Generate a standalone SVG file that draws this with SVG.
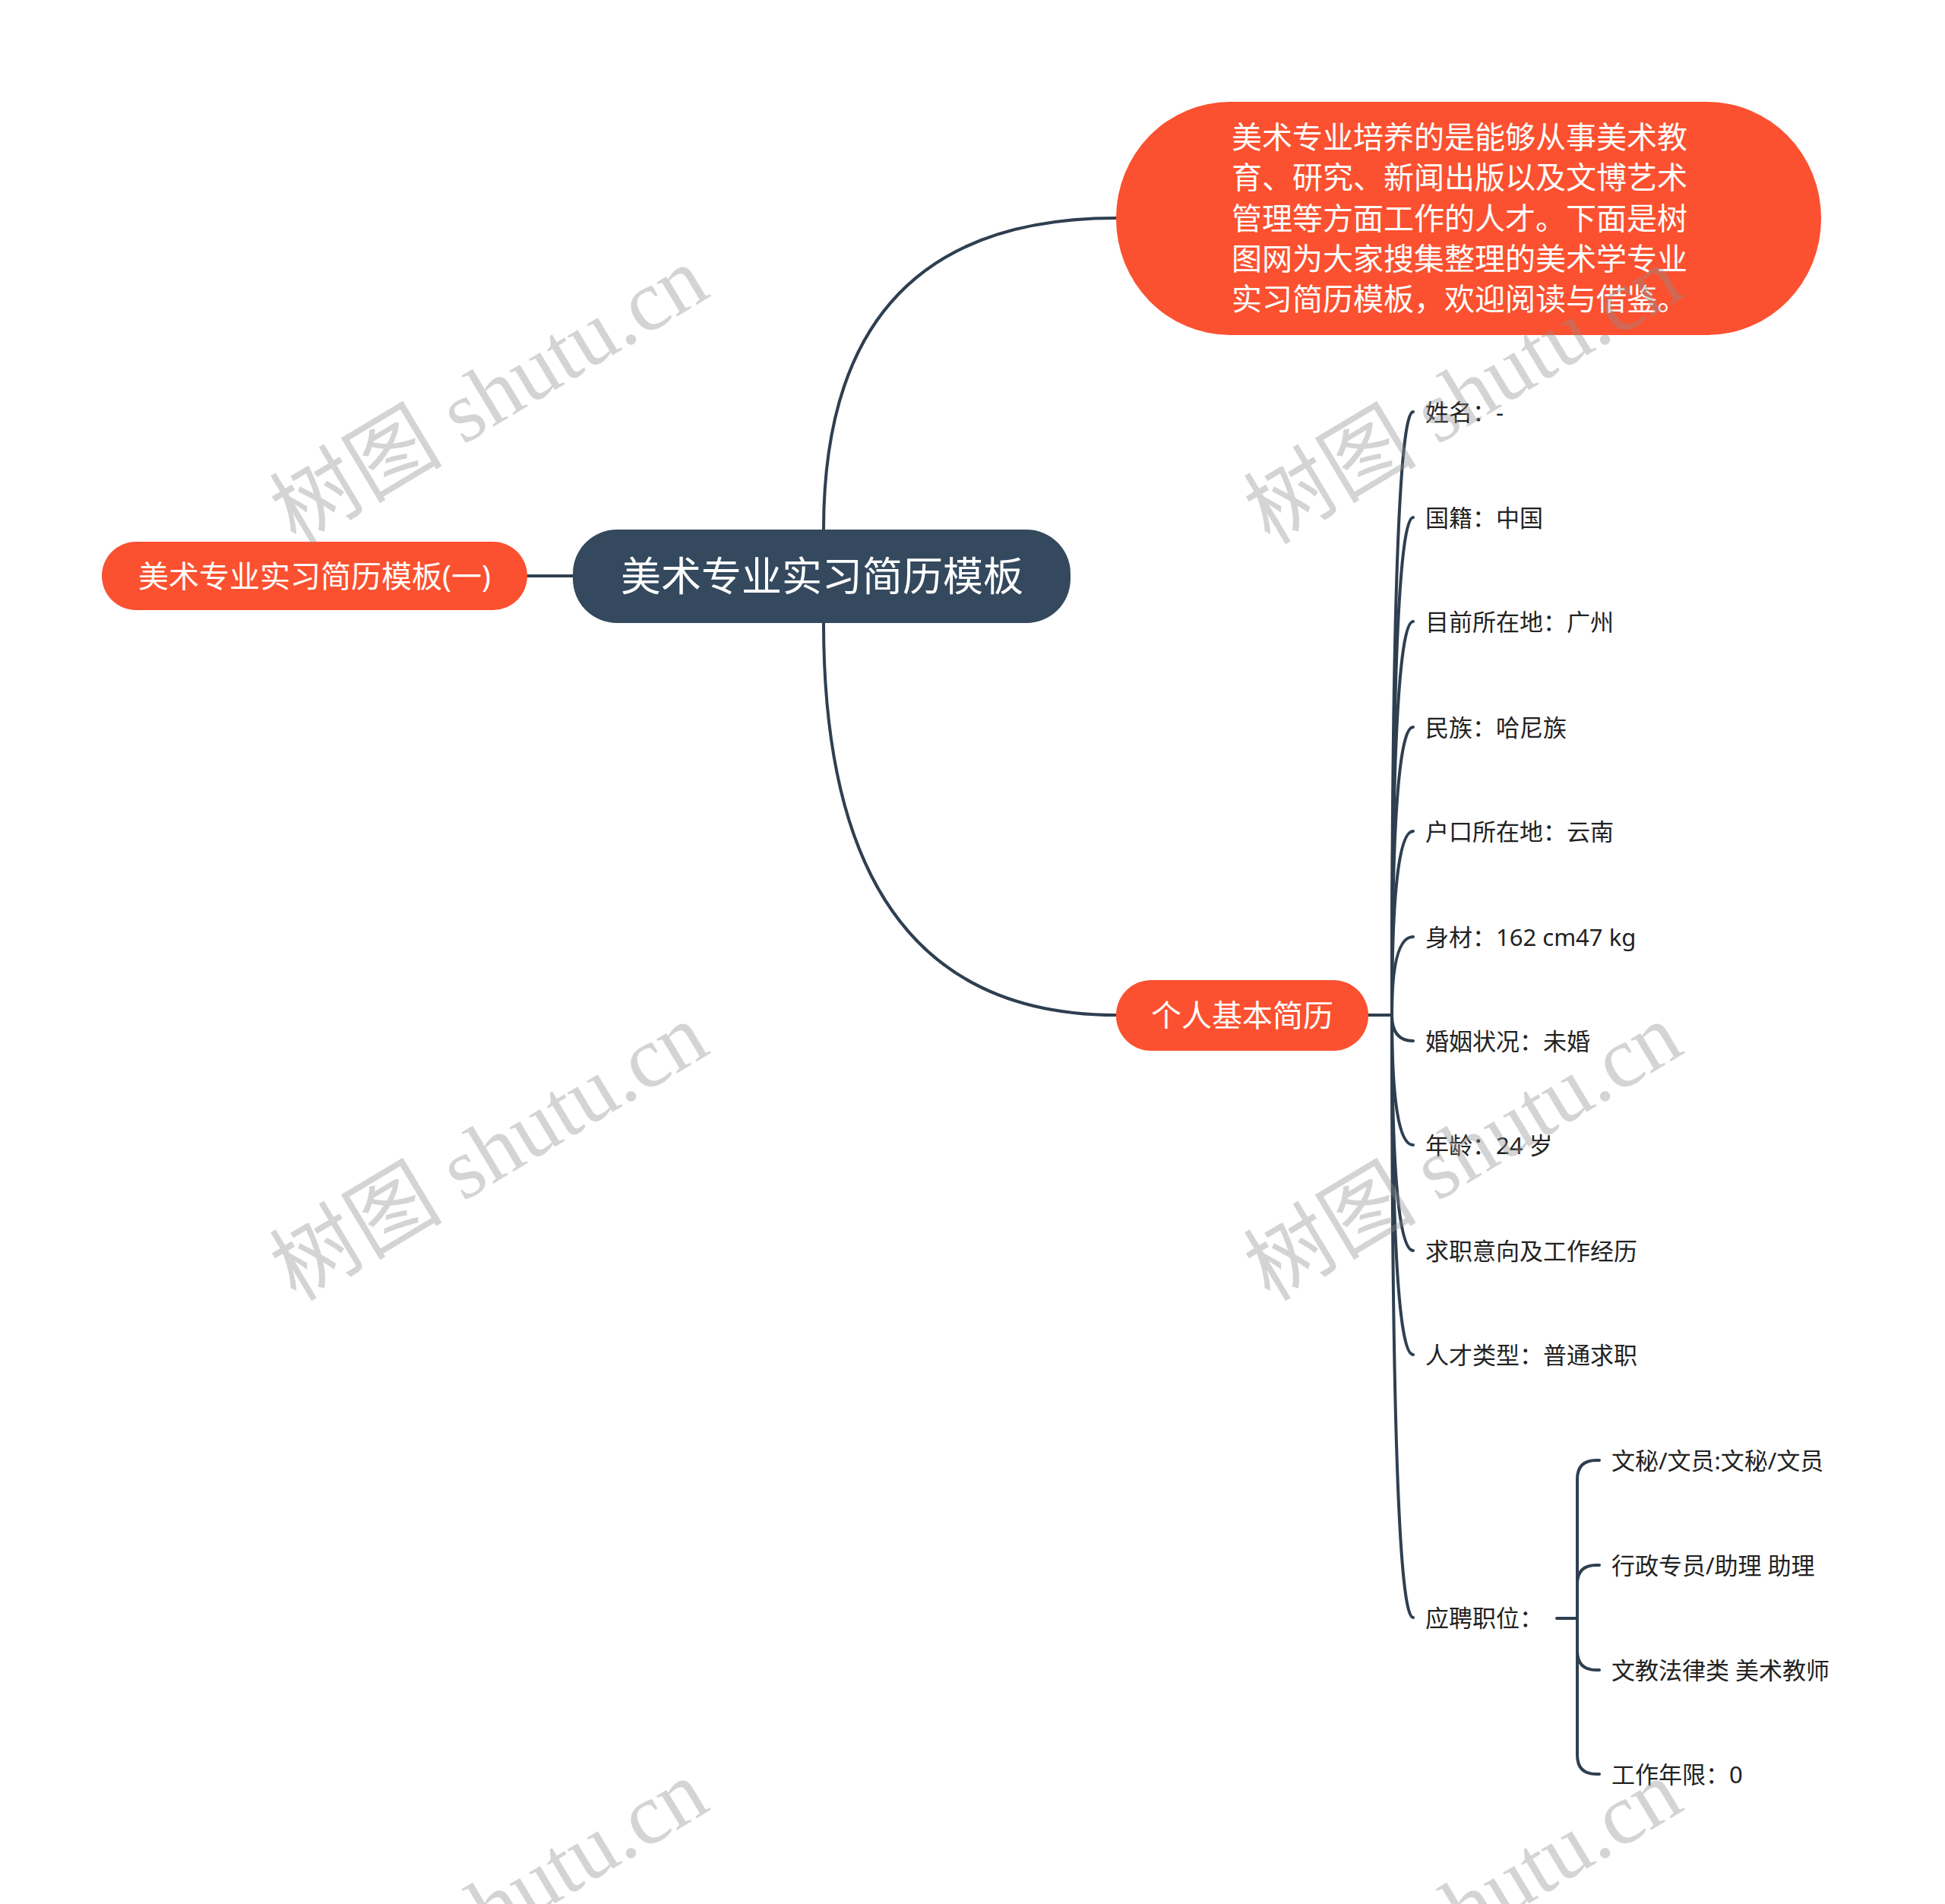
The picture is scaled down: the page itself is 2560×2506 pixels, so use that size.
<svg xmlns="http://www.w3.org/2000/svg" width="2560" height="2506" viewBox="0 0 2560 2506">
<style>
.orange{fill:#FB5130}
.dark{fill:#34495E}
.wt{fill:#FFFFFF;font-family:"Noto Sans","Noto Sans CJK SC",sans-serif}
.lt{fill:#222222;font-family:"Noto Sans","Noto Sans CJK SC",sans-serif;font-size:31px}
.conn path,.conn line{fill:none;stroke:#2E3F50;stroke-width:4;stroke-linecap:round}
.wm{fill:#8f8f8f;fill-opacity:0.38;font-family:"Liberation Serif","Noto Sans CJK SC",serif;font-size:114px}
</style>
<rect x="0" y="0" width="2560" height="2506" fill="#FFFFFF"/>
<g class="conn" id="connectors">
<line x1="694" y1="758" x2="754" y2="758"/>
<path d="M1084 697 Q1084 287 1469 287"/>
<path d="M1084 820 Q1084 1336 1469 1336"/>
<line x1="1801" y1="1336" x2="1832" y2="1336"/>
<path d="M1832 1336 Q1832 542 1860 542"/>
<path d="M1832 1336 Q1832 681 1860 681"/>
<path d="M1832 1336 Q1832 818 1860 818"/>
<path d="M1832 1336 Q1832 957 1860 957"/>
<path d="M1832 1336 Q1832 1094 1860 1094"/>
<path d="M1832 1336 Q1832 1233 1860 1233"/>
<path d="M1832 1336 Q1832 1370 1860 1370"/>
<path d="M1832 1336 Q1832 1507 1860 1507"/>
<path d="M1832 1336 Q1832 1646 1860 1646"/>
<path d="M1832 1336 Q1832 1783 1860 1783"/>
<path d="M1832 1336 Q1832 2129 1860 2129"/>
<line x1="2049" y1="2130" x2="2076" y2="2130"/>
<path d="M2076 2130 L2076 1947 Q2076 1922 2101 1922 L2105 1922"/>
<path d="M2076 2130 L2076 2085 Q2076 2060 2101 2060 L2105 2060"/>
<path d="M2076 2130 L2076 2173 Q2076 2198 2101 2198 L2105 2198"/>
<path d="M2076 2130 L2076 2310 Q2076 2335 2101 2335 L2105 2335"/>
</g>
<g id="root">
<rect class="dark" x="754" y="697" width="655" height="123" rx="58" ry="58"/>
<text class="wt" x="1082" y="778" font-size="53" text-anchor="middle">美术专业实习简历模板</text>
</g>
<g id="node-left">
<rect class="orange" x="134" y="713" width="560" height="90" rx="45" ry="45"/>
<text class="wt" x="414" y="773" font-size="40" text-anchor="middle">美术专业实习简历模板(一)</text>
</g>
<g id="node-intro">
<rect class="orange" x="1469" y="134" width="928" height="307" rx="150" ry="153"/>
<text class="wt" font-size="40">
<tspan x="1621" y="195">美术专业培养的是能够从事美术教</tspan>
<tspan x="1621" y="248">育、研究、新闻出版以及文博艺术</tspan>
<tspan x="1621" y="302">管理等方面工作的人才。下面是树</tspan>
<tspan x="1621" y="355">图网为大家搜集整理的美术学专业</tspan>
<tspan x="1621" y="408">实习简历模板，欢迎阅读与借鉴。</tspan>
</text>
</g>
<g id="node-basic">
<rect class="orange" x="1469" y="1290" width="332" height="93" rx="46" ry="46"/>
<text class="wt" x="1635" y="1351" font-size="40" text-anchor="middle">个人基本简历</text>
</g>
<g id="leaf-1"><text class="lt" x="1876" y="554">姓名：-</text></g>
<g id="leaf-2"><text class="lt" x="1876" y="693">国籍：中国</text></g>
<g id="leaf-3"><text class="lt" x="1876" y="830">目前所在地：广州</text></g>
<g id="leaf-4"><text class="lt" x="1876" y="969">民族：哈尼族</text></g>
<g id="leaf-5"><text class="lt" x="1876" y="1106">户口所在地：云南</text></g>
<g id="leaf-6"><text class="lt" x="1876" y="1245">身材：162 cm47 kg</text></g>
<g id="leaf-7"><text class="lt" x="1876" y="1382">婚姻状况：未婚</text></g>
<g id="leaf-8"><text class="lt" x="1876" y="1519">年龄：24 岁</text></g>
<g id="leaf-9"><text class="lt" x="1876" y="1658">求职意向及工作经历</text></g>
<g id="leaf-10"><text class="lt" x="1876" y="1795">人才类型：普通求职</text></g>
<g id="leaf-11"><text class="lt" x="1876" y="2141">应聘职位：</text></g>
<g id="sub-1"><text class="lt" x="2121" y="1934">文秘/文员:文秘/文员</text></g>
<g id="sub-2"><text class="lt" x="2121" y="2072">行政专员/助理 助理</text></g>
<g id="sub-3"><text class="lt" x="2121" y="2210">文教法律类 美术教师</text></g>
<g id="sub-4"><text class="lt" x="2121" y="2347">工作年限：0</text></g>
<g id="watermarks">
<text class="wm" x="643" y="559" text-anchor="middle" transform="rotate(-31 643 519)">树图 shutu.cn</text>
<text class="wm" x="1925" y="559" text-anchor="middle" transform="rotate(-31 1925 519)">树图 shutu.cn</text>
<text class="wm" x="643" y="1555" text-anchor="middle" transform="rotate(-31 643 1515)">树图 shutu.cn</text>
<text class="wm" x="1925" y="1555" text-anchor="middle" transform="rotate(-31 1925 1515)">树图 shutu.cn</text>
<text class="wm" x="643" y="2551" text-anchor="middle" transform="rotate(-31 643 2511)">树图 shutu.cn</text>
<text class="wm" x="1925" y="2551" text-anchor="middle" transform="rotate(-31 1925 2511)">树图 shutu.cn</text>
</g>
</svg>
